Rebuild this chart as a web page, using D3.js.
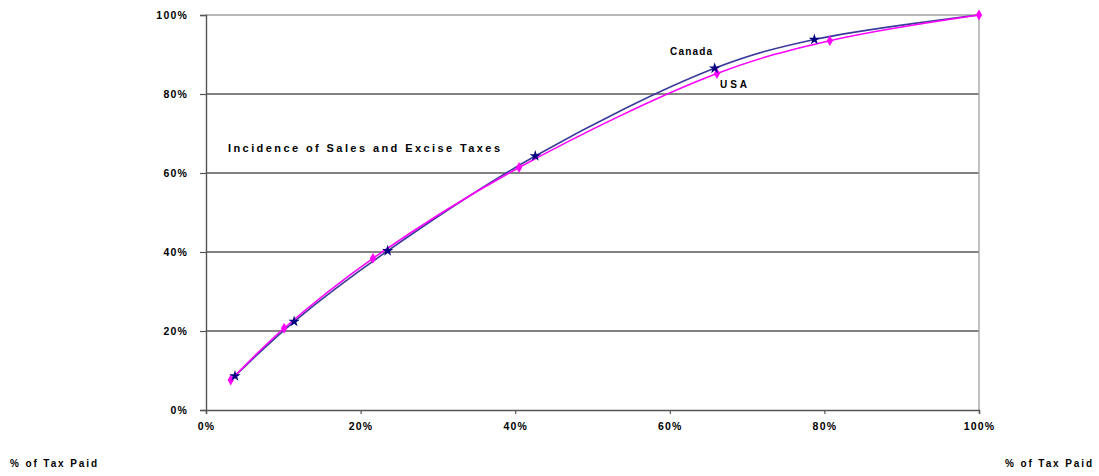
<!DOCTYPE html>
<html><head><meta charset="utf-8">
<script src="https://cdn.jsdelivr.net/npm/d3@7"></script>
<style>body{margin:0;background:#fff}svg{display:block}text{font-family:"Liberation Sans",Arial,sans-serif;fill:#000}</style>
</head><body><svg id="c" width="1099" height="476"></svg>
<script>
const xTicks = [0, 20, 40, 60, 80, 100];
const yTicks = [0, 20, 40, 60, 80, 100];
const canadaX = [3.75, 11.4, 23.5, 42.6, 65.8, 78.7, 100];
const canadaY = [8.6, 22.4, 40.3, 64.3, 86.5, 93.8, 100];
const usaX = [3.2, 10.1, 21.6, 40.5, 66.1, 80.7, 100];
const usaY = [7.6, 20.7, 38.4, 61.4, 85.2, 93.5, 100];

const svg = d3.select("#c");
const x = d3.scaleLinear().domain([0,100]).range([206,979]);
const y = d3.scaleLinear().domain([0,100]).range([410,15]);
const fmt = d => d + "%";

svg.append("g").selectAll("line").data(yTicks.filter(d=>d>0 && d<100)).join("line")
  .attr("x1",x(0)).attr("x2",x(100)).attr("y1",d=>y(d)).attr("y2",d=>y(d))
  .attr("stroke","#5a5a5a").attr("stroke-width",1.3);
svg.append("line").attr("x1",x(0)).attr("x2",x(100)).attr("y1",y(100)).attr("y2",y(100)).attr("stroke","#a0a0a0").attr("stroke-width",1.3);
svg.append("line").attr("x1",x(100)).attr("x2",x(100)).attr("y1",y(100)).attr("y2",y(0)).attr("stroke","#a0a0a0").attr("stroke-width",1.3);

const yAxis = d3.axisLeft(y).tickValues(yTicks).tickFormat(fmt).tickSize(6).tickPadding(12);
const xAxis = d3.axisBottom(x).tickValues(xTicks).tickFormat(fmt).tickSize(4).tickPadding(9);
const gy = svg.append("g").attr("transform",`translate(${x(0)},0)`).call(yAxis);
const gx = svg.append("g").attr("transform",`translate(0,${y(0)})`).call(xAxis);
[gy,gx].forEach(g=>{
  g.select(".domain").attr("stroke","#555").attr("stroke-width",1.4);
  g.selectAll(".tick line").attr("stroke","#555").attr("stroke-width",1.2);
  g.selectAll(".tick text").attr("font-size",10.5).attr("font-weight","bold")
    .attr("font-family","'Liberation Sans',Arial,sans-serif").attr("fill","#000")
    .attr("letter-spacing","1.2px");
});
gy.selectAll(".tick text").attr("dy","0.35em");

const line = d3.line().x(d=>x(d[0])).y(d=>y(d[1])).curve(d3.curveCatmullRom);
const canada = canadaX.map((v,i)=>[v,canadaY[i]]);
const usa = usaX.map((v,i)=>[v,usaY[i]]);

svg.append("path").datum(canada).attr("d",line).attr("fill","none").attr("stroke","#3a3a9a").attr("stroke-width",1.6);
svg.append("path").datum(usa).attr("d",line).attr("fill","none").attr("stroke","#ff00ff").attr("stroke-width",1.6);

svg.append("g").selectAll("path").data(usa).join("path")
  .attr("d",d3.symbol().type(d3.symbolDiamond).size(34)())
  .attr("transform",d=>`translate(${x(d[0])},${y(d[1])})`).attr("fill","#ff00ff");
svg.append("g").selectAll("path").data(canada.slice(0,6)).join("path")
  .attr("d",d3.symbol().type(d3.symbolStar).size(40)())
  .attr("transform",d=>`translate(${x(d[0])},${y(d[1])})`).attr("fill","#000080");

function label(t,xp,yp,len,size,anchor){
  svg.append("text").attr("x",xp).attr("y",yp).attr("font-size",size).attr("font-weight","bold")
    .attr("textLength",len).attr("lengthAdjust","spacing").attr("text-anchor",anchor||"start").text(t);
}
label("Canada",670,55,42,10);
label("USA",720,88,27,10);
label("Incidence of Sales and Excise Taxes",228,152,272,11);
label("% of Tax Paid",10,467,87,10);
label("% of Tax Paid",1005,467,87,10);
</script></body></html>
